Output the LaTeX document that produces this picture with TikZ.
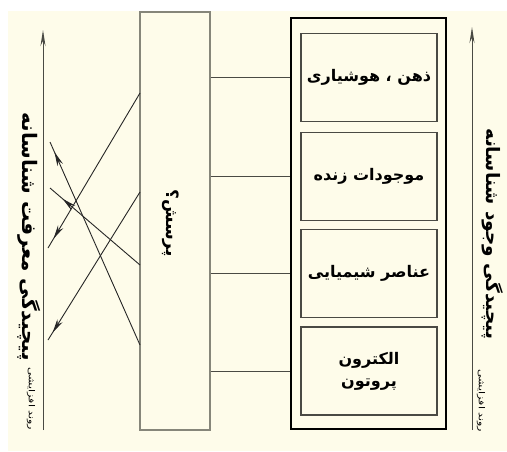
\documentclass[tikz,border=0pt]{standalone}
\usepackage{fontspec}
\usetikzlibrary{arrows.meta,decorations.markings}
\TeXXeTstate=1
\newfontfamily\arabicfont[Script=Arabic]{DejaVu Sans}
\definecolor{bgc}{HTML}{FEFCEA}
\definecolor{linec}{HTML}{4A4A44}
\definecolor{grayc}{HTML}{86867A}
\tikzset{
  innerbox/.style={draw=linec, line width=1.4pt, minimum width=136pt, minimum height=88pt, inner sep=0pt,
    font=\arabicfont\bfseries\fontsize{16}{22}\selectfont, align=center},
  link/.style={draw=linec, line width=0.8pt},
  crossarrow/.style={draw=black!85, line width=0.9pt, postaction={decorate},
    decoration={markings, mark=at position #1 with {\arrow{Stealth[length=14pt,width=6pt]}}}},
  axis/.style={draw=linec, line width=1pt, -{Stealth[length=16pt,width=5pt]}},
  vlabel/.style={rotate=-90, font=\arabicfont\bfseries, inner sep=0pt},
  smalllabel/.style={rotate=-90, font=\arabicfont\fontsize{11}{12}\selectfont, inner sep=0pt}
}
\begin{document}
\begin{tikzpicture}[x=1pt,y=-1pt]
\useasboundingbox (0,0) rectangle (507,451);
\fill[bgc] (8,11) rectangle (507,451);
% middle column
\node[draw=grayc, line width=1.2pt, minimum width=70pt, minimum height=418pt, inner sep=0pt] (q) at (175,221) {};
\node[vlabel] (qt) at (171,223) {\fontsize{17}{19}\selectfont\beginR پرسش؟\endR};
% outer box
\node[draw=black, line width=2.4pt, minimum width=155pt, minimum height=411pt, inner sep=0pt] (outer) at (368.5,223.5) {};
\node[innerbox] (b1) at (369,77.5) {\beginR ذهن ، هوشیاری\endR};
\node[innerbox] (b2) at (369,176.5) {\beginR موجودات زنده\endR};
\node[innerbox] (b3) at (369,273.5) {\beginR عناصر شیمیایی\endR};
\node[innerbox] (b4) at (369,371) {\beginR الکترون\endR\\\beginR پروتون\endR};
% links
\foreach \b in {b1,b2,b3,b4}
  \draw[link] (q.east |- \b) -- (outer.west |- \b);
% left axis
\coordinate (lb) at (43,430);
\coordinate (lt) at (43,30);
\draw[axis] (lb) -- (lt);
\node[vlabel] (ll) at (29.5,236.5) {\fontsize{20}{22}\selectfont\beginR پیچیدگی معرفت شناسانه\endR};
\node[smalllabel] (ls) at (31,399) {\scalebox{1}[0.75]{\beginR روند افزایشی\endR}};
% right axis
\coordinate (rb) at (472,430);
\coordinate (rt) at (472,27);
\draw[axis] (rb) -- (rt);
\node[vlabel] (rl) at (493,234) {\fontsize{18.5}{21}\selectfont\beginR پیچیدگی وجود شناسانه\endR};
\node[smalllabel] (rs) at (481,401) {\scalebox{1}[0.75]{\beginR روند افزایشی\endR}};
% crossing arrows
\coordinate (s1) at (140,93);
\coordinate (e1) at (48,248);
\coordinate (s2) at (140,192);
\coordinate (e2) at (48,340);
\coordinate (s3) at (140,265);
\coordinate (e3) at (50,188);
\coordinate (s4) at (140,345);
\coordinate (e4) at (50,142);
\draw[crossarrow=0.94] (s1) -- (e1);
\draw[crossarrow=0.95] (s2) -- (e2);
\draw[crossarrow=0.86] (s3) -- (e3);
\draw[crossarrow=0.95] (s4) -- (e4);
\end{tikzpicture}
\end{document}
